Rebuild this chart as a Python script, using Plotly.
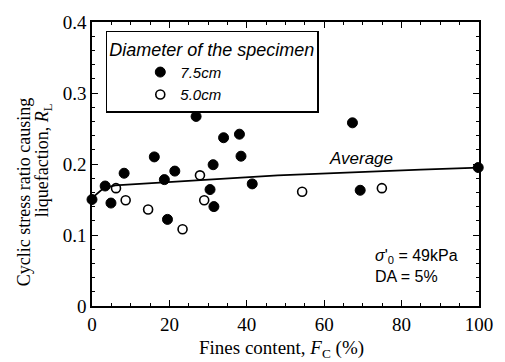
import plotly.graph_objects as go

# Data
fc_75 = [0, 3.4, 4.9, 8.3, 16.1, 18.7, 19.5, 21.4, 26.9, 30.5, 31.3, 31.5, 34.0, 38.1, 38.5, 41.4, 67.3, 69.3, 99.8]
rl_75 = [0.150, 0.169, 0.145, 0.187, 0.210, 0.178, 0.122, 0.190, 0.267, 0.164, 0.199, 0.140, 0.237, 0.242, 0.211, 0.172, 0.258, 0.163, 0.195]

fc_50 = [6.2, 8.7, 14.5, 23.4, 27.9, 29.0, 54.3, 74.9]
rl_50 = [0.166, 0.149, 0.136, 0.108, 0.184, 0.149, 0.161, 0.166]

avg_fc = [0, 3, 6, 48, 85, 100]
avg_rl = [0.152, 0.166, 0.170, 0.184, 0.192, 0.195]

x_ticks = [0, 20, 40, 60, 80, 100]
y_ticks = [0, 0.1, 0.2, 0.3, 0.4]
y_tick_text = ["0", "0.1", "0.2", "0.3", "0.4"]

serif = "Liberation Serif"
sans = "Liberation Sans"

fig = go.Figure()
fig.add_trace(go.Scatter(x=avg_fc, y=avg_rl, mode="lines", line=dict(color="black", width=1.8),
                         showlegend=False, cliponaxis=False, hoverinfo="skip"))
fig.add_trace(go.Scatter(x=fc_75, y=rl_75, mode="markers", name="<i>7.5cm</i>",
                         marker=dict(symbol="circle", size=10, color="black", line=dict(color="black", width=1)),
                         cliponaxis=False))
fig.add_trace(go.Scatter(x=fc_50, y=rl_50, mode="markers", name="<i>5.0cm</i>",
                         marker=dict(symbol="circle-open", size=9, color="black", line=dict(color="black", width=1.6)),
                         cliponaxis=False))

L, R, T, B = 92, 20, 19, 56
W, H = 505, 362
pw, ph = W - L - R, H - T - B

def px(xp):
    return (xp - L) / pw

def py(yp):
    return (H - B - yp) / ph

tick_font = dict(family="Times New Roman", size=19, color="black")

fig.update_layout(
    xaxis=dict(range=[0, 100], tickmode="array", tickvals=x_ticks, ticktext=[str(v) for v in x_ticks],
               tickfont=tick_font,
               showline=True, linecolor="black", linewidth=1.5, mirror="allticks",
               ticks="inside", ticklen=6, tickwidth=1.2, tickcolor="black",
               showgrid=False, zeroline=False,
               minor=dict(dtick=5, ticks="inside", ticklen=3, tickcolor="black", tickwidth=1)),
    yaxis=dict(range=[0, 0.4], tickmode="array", tickvals=y_ticks, ticktext=y_tick_text,
               tickfont=tick_font,
               showline=True, linecolor="black", linewidth=1.5, mirror="allticks",
               ticks="inside", ticklen=6, tickwidth=1.2, tickcolor="black",
               showgrid=False, zeroline=False,
               minor=dict(dtick=0.02, ticks="inside", ticklen=3, tickcolor="black", tickwidth=1)),
)

annotations = [
    dict(text="Cyclic stress ratio causing", x=px(23), y=py(191), textangle=-90,
         font=dict(family=serif, size=18, color="black")),
    dict(text="liquefaction, <i>R</i><sub>L</sub>", x=px(43), y=py(159), textangle=-90,
         font=dict(family=serif, size=18, color="black")),
    dict(text="Fines content, <i>F</i><sub>C</sub> (%)", x=px(284), y=py(349),
         font=dict(family=serif, size=19, color="black")),
    dict(text="<i>Average</i>", x=px(365), y=py(157),
         font=dict(family=sans, size=17, color="black")),
    dict(text="<i>σ</i>'<sub>0</sub> = 49kPa", x=px(377), y=py(256), xanchor="left",
         font=dict(family=sans, size=16, color="black")),
    dict(text="DA = 5%", x=px(377), y=py(276), xanchor="left",
         font=dict(family=sans, size=16, color="black")),
]
for a in annotations:
    a.update(xref="paper", yref="paper", showarrow=False)
    a.setdefault("xanchor", "center")
    a.setdefault("yanchor", "middle")

fig.update_layout(
    width=W, height=H,
    margin=dict(l=L, r=R, t=T, b=B),
    paper_bgcolor="white", plot_bgcolor="white",
    font=dict(family=serif, size=19, color="black"),
    annotations=annotations,
    legend=dict(
        title=dict(text="<i>Diameter of the specimen</i>", font=dict(family=sans, size=18, color="black")),
        font=dict(family=sans, size=15, color="black"),
        x=px(106), y=py(28), xanchor="left", yanchor="top",
        bordercolor="black", borderwidth=1.5, bgcolor="white",
        indentation=33, tracegroupgap=0, itemwidth=30,
    ),
)

fig.write_html("out.html")
